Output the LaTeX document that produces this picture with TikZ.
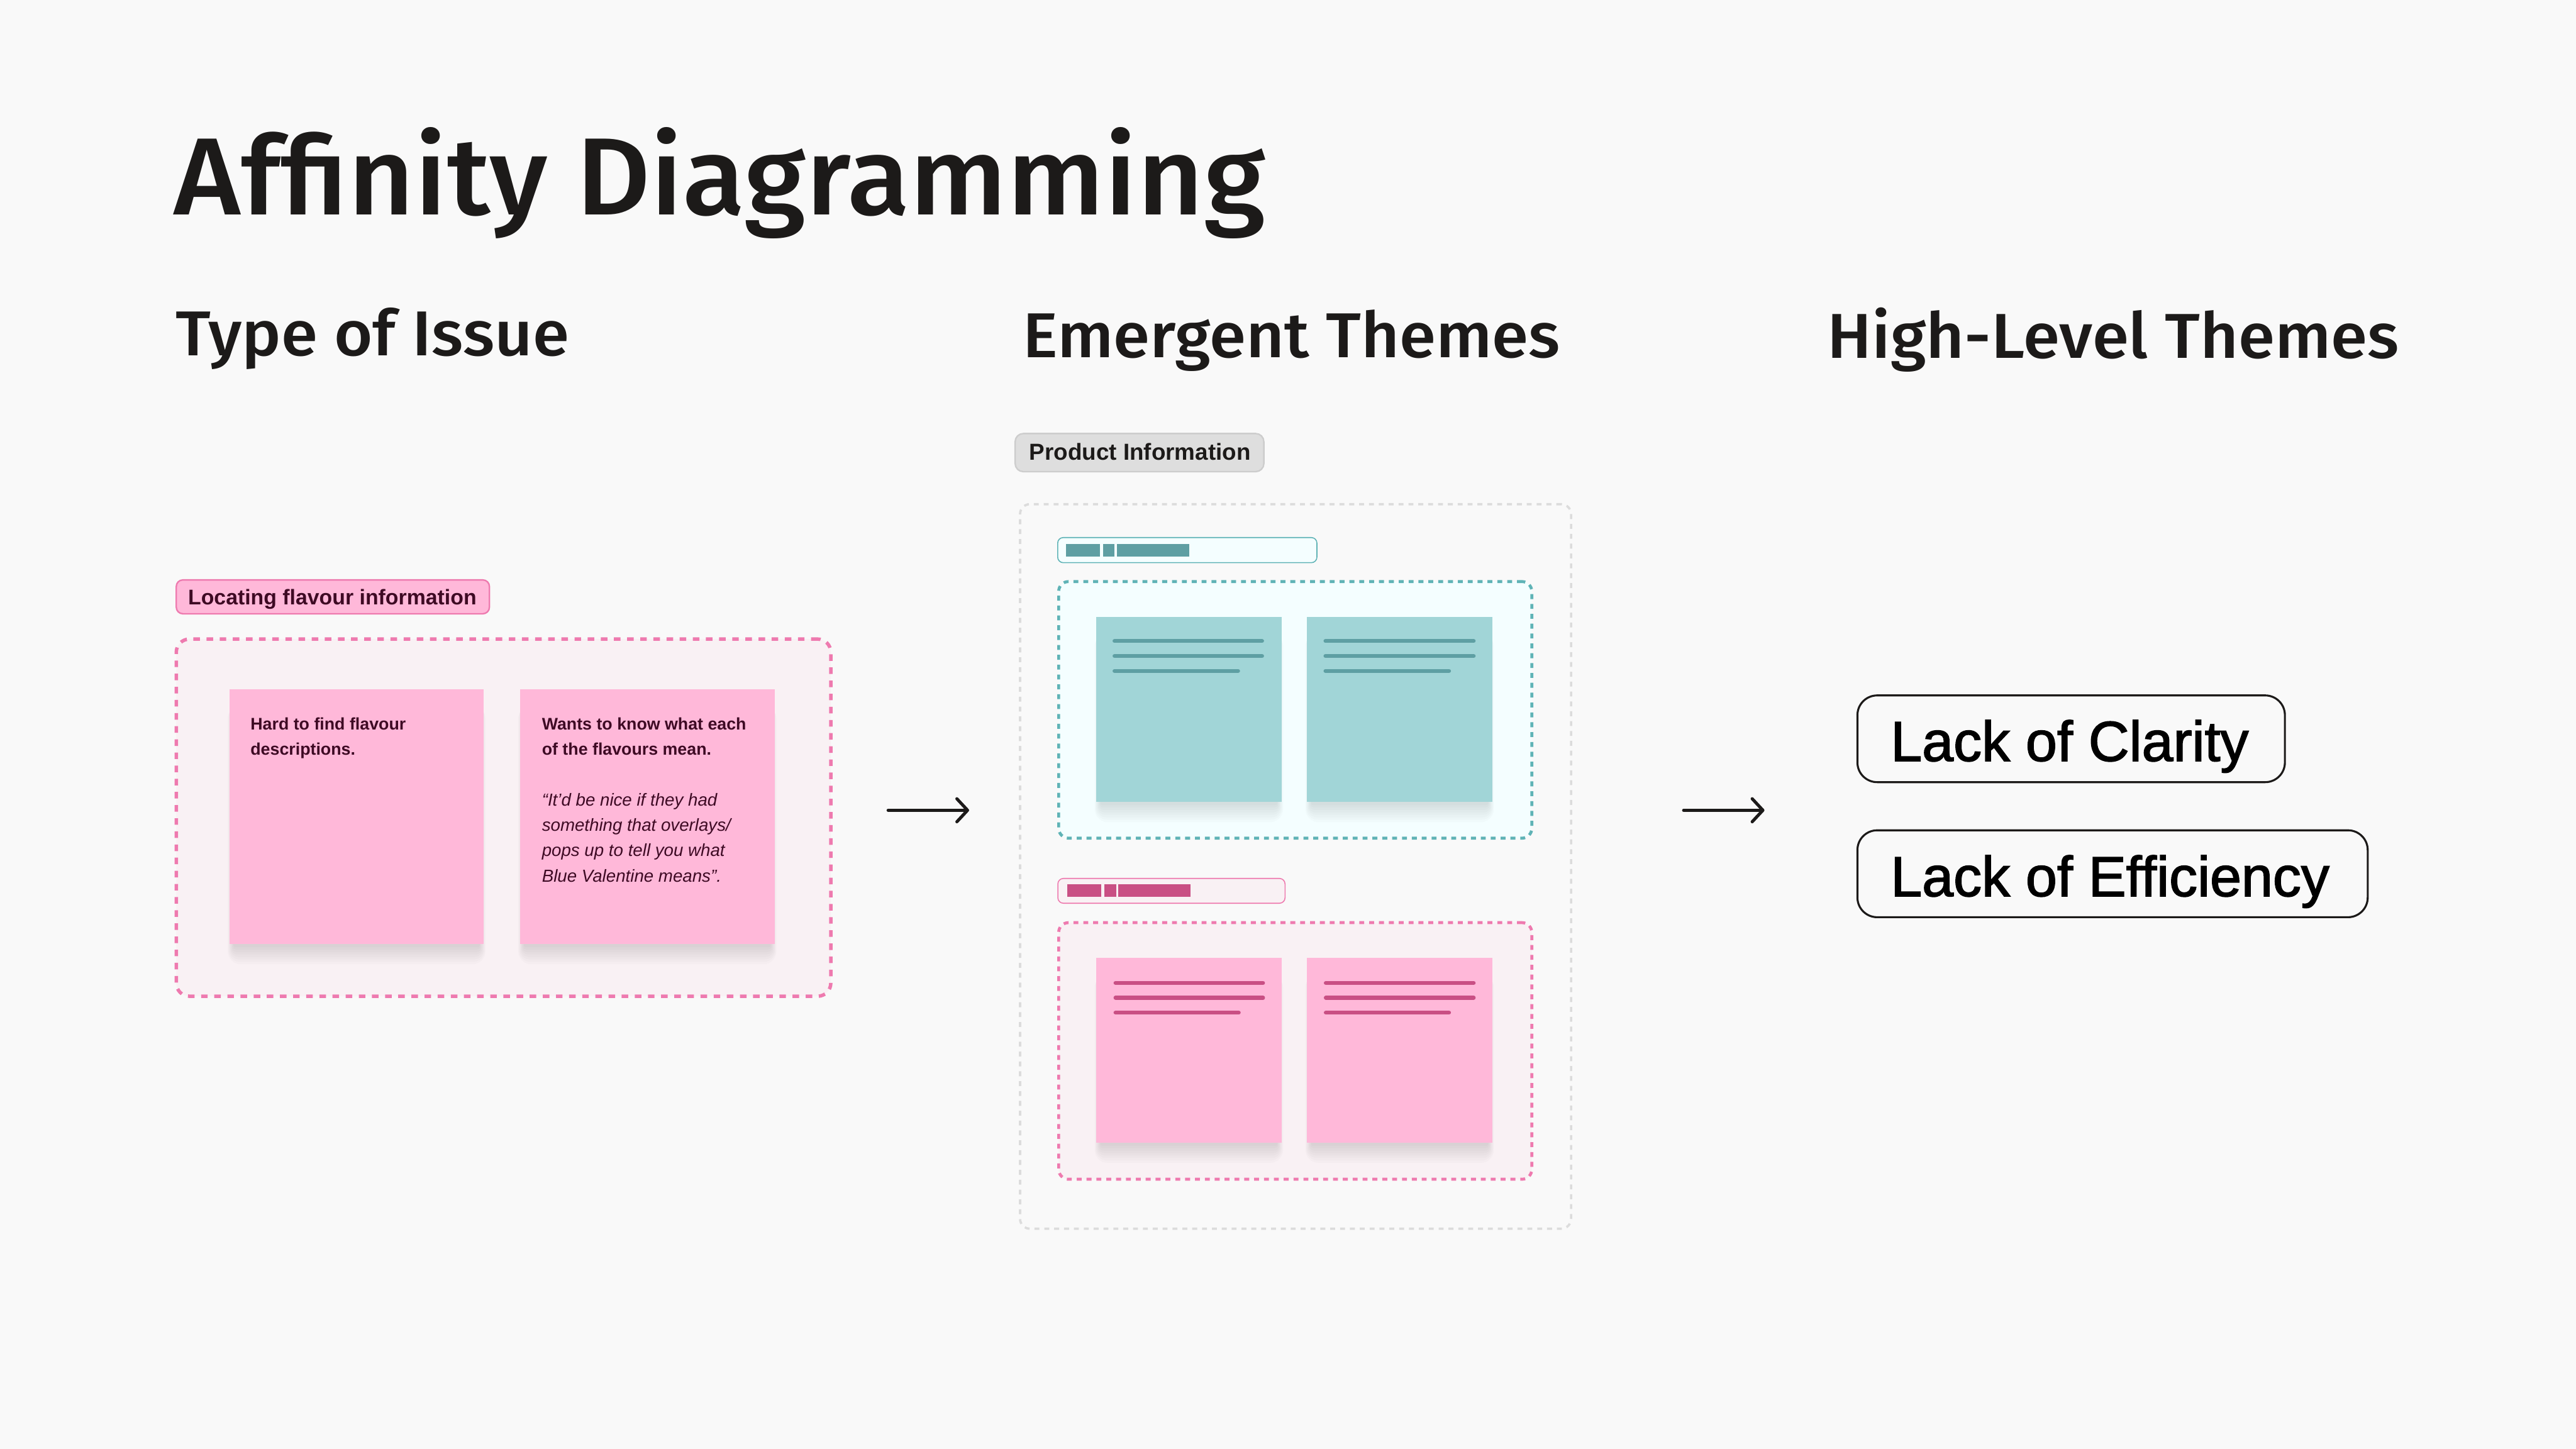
\documentclass[tikz,border=0pt]{standalone}
\usepackage{fontspec}
\usetikzlibrary{arrows.meta}
\setmainfont{Liberation Sans}
\newfontfamily\headfont{Fira Sans}[UprightFont=* Medium,FakeStretch=1.045]
\newfontfamily\notefont{Liberation Sans}
\newfontfamily\themefont{Liberation Sans}[FakeBold=1.8]
\definecolor{bg}{HTML}{F9F9F9}
\definecolor{ink}{HTML}{1C1A19}
\definecolor{maroon}{HTML}{3E0A24}
\definecolor{pinkfill}{HTML}{FFB8D9}
\definecolor{pinkline}{HTML}{EE7AAF}
\definecolor{pinkbg}{HTML}{F9F1F4}
\definecolor{pinkdark}{HTML}{C94F84}
\definecolor{tealfill}{HTML}{A1D5D7}
\definecolor{tealline}{HTML}{5FB3B6}
\definecolor{tealbg}{HTML}{F4FEFF}
\definecolor{tealdark}{HTML}{5E9FA3}
\definecolor{grayfill}{HTML}{DEDEDE}
\definecolor{grayline}{HTML}{CDCDCD}
\definecolor{graydash}{HTML}{DCDCDC}
\newcommand\softshadow[4]{%
  \foreach \k in {1,...,8}{%
    \fill[black,opacity=0.015,rounded corners=\k pt] (#1+3-0.5*\k,#2+10) rectangle (#3-3+0.5*\k,#4+0.3+1.5*\k);}}
\begin{document}
\begin{tikzpicture}[x=1pt,y=-1pt,
  box/.style={inner sep=0pt,outer sep=0pt},
  txt/.style={inner sep=0pt,outer sep=0pt,anchor=base west},
  head/.style={txt,text=ink,font=\headfont\fontsize{38.6}{44}\selectfont},
  pinkdashL/.style={box,draw=pinkline,fill=pinkbg,line width=2.1pt,dash pattern=on 4pt off 4pt,rounded corners=8pt},
  pinkdashM/.style={box,draw=pinkline,fill=pinkbg,line width=1.8pt,dash pattern=on 3pt off 3pt,rounded corners=6pt},
  tealdash/.style={box,draw=tealline,fill=tealbg,line width=1.8pt,dash pattern=on 3pt off 3pt,rounded corners=6pt},
  graydashed/.style={box,draw=graydash,line width=1.4pt,dash pattern=on 3pt off 3pt,rounded corners=6pt},
  pinknote/.style={box,fill=pinkfill},
  tealnote/.style={box,fill=tealfill},
  notebold/.style={txt,text=maroon,font=\notefont\bfseries\fontsize{10.25}{12}\selectfont},
  noteital/.style={txt,text=maroon,font=\notefont\itshape\fontsize{10.6}{12}\selectfont},
  themebox/.style={box,draw=ink,line width=1.2pt,rounded corners=12pt},
  themetext/.style={txt,text=black,font=\themefont\fontsize{34.4}{38}\selectfont},
  flow/.style={draw=ink,line width=1.9pt,line cap=round,-{Straight Barb[length=6.5pt,width=14pt,line cap=round,line join=round]}},
  tline/.style={tealdark,line width=2.4pt,line cap=round},
  pline/.style={pinkdark,line width=2.4pt,line cap=round}]
\useasboundingbox (0,0) rectangle (1568,882);
\fill[bg] (0,0) rectangle (1568,882);

% titles
\node[txt,text=ink,font=\headfont\fontsize{66.8}{70}\selectfont] (title) at (106,130.7) {Affinity Diagramming};
\node[head] (h1) at (107,216.5) {Type of Issue};
\node[head] (h2) at (622.6,217.5) {Emergent Themes};
\node[head] (h3) at (1112.3,217.9) {High-Level Themes};

% left column
\node[box,fill=pinkfill,draw=pinkline,line width=0.9pt,rounded corners=4pt,minimum width=190.6pt,minimum height=20.6pt] (tagL) at (202.6,363.3) {};
\node[txt,text=maroon,font=\notefont\bfseries\fontsize{12.95}{14}\selectfont] (tagLt) at (114.5,368.2) {Locating flavour information};
\node[pinkdashL,minimum width=398.4pt,minimum height=217.4pt] (contL) at (306.5,497.7) {};
\softshadow{139.6}{419.6}{294.5}{574.7}
\softshadow{316.4}{419.6}{471.6}{574.7}
\node[pinknote,minimum width=154.9pt,minimum height=155.1pt] (sL1) at (217.05,497.15) {};
\node[pinknote,minimum width=155.2pt,minimum height=155.1pt] (sL2) at (394,497.15) {};
\node[notebold] (n1a) at (152.5,444.2) {Hard to find flavour};
\node[notebold] (n1b) at (152.5,459.4) {descriptions.};
\node[notebold] (n2a) at (329.9,444.2) {Wants to know what each};
\node[notebold] (n2b) at (329.9,459.4) {of the flavours mean.};
\node[noteital] (q1) at (329.9,490.4) {“It’d be nice if they had};
\node[noteital] (q2) at (329.9,505.9) {something that overlays/};
\node[noteital] (q3) at (329.9,521.2) {pops up to tell you what};
\node[noteital] (q4) at (329.9,536.8) {Blue Valentine means”.};

% middle column
\node[box,fill=grayfill,draw=grayline,line width=0.9pt,rounded corners=5pt,minimum width=151.4pt,minimum height=23.2pt] (tagM) at (693.6,275.5) {};
\node[txt,text=ink,font=\notefont\bfseries\fontsize{14.09}{16}\selectfont] (tagMt) at (626.6,280.2) {Product Information};
\node[graydashed,minimum width=335.4pt,minimum height=441pt] (outerM) at (788.6,527.4) {};

\node[box,fill=tealbg,draw=tealline,line width=0.6pt,rounded corners=3.4pt,minimum width=157.8pt,minimum height=15.3pt] (hdrT) at (722.7,334.85) {};
\fill[tealdark] (648.8,331.1) rectangle (669.7,338.7);
\fill[tealdark] (671.6,331.1) rectangle (678.4,338.7);
\fill[tealdark] (679.9,331.1) rectangle (723.8,338.7);
\node[tealdash,minimum width=288pt,minimum height=156.2pt] (contT) at (788.4,432.1) {};
\softshadow{667.3}{375.5}{780}{488.2}
\softshadow{795.6}{375.5}{908.3}{488.2}
\node[tealnote,minimum width=112.7pt,minimum height=112.7pt] (sT1) at (723.65,431.85) {};
\node[tealnote,minimum width=112.7pt,minimum height=112.7pt] (sT2) at (851.95,431.85) {};
\draw[tline] (678.4,390.2) -- (768.2,390.2);
\draw[tline] (678.4,399.3) -- (768.2,399.3);
\draw[tline] (678.4,408.4) -- (753.6,408.4);
\draw[tline] (806.8,390.2) -- (897,390.2);
\draw[tline] (806.8,399.3) -- (897,399.3);
\draw[tline] (806.8,408.4) -- (882,408.4);

\node[box,fill=pinkbg,draw=pinkline,line width=0.6pt,rounded corners=3.4pt,minimum width=138.3pt,minimum height=15.1pt] (hdrP) at (713.05,542.25) {};
\fill[pinkdark] (649.7,538.4) rectangle (670.4,545.9);
\fill[pinkdark] (672.4,538.4) rectangle (679.3,545.9);
\fill[pinkdark] (680.6,538.4) rectangle (724.6,545.9);
\node[pinkdashM,minimum width=288pt,minimum height=156.2pt] (contP) at (788.4,639.7) {};
\softshadow{667.3}{583.1}{780}{695.6}
\softshadow{795.6}{583.1}{908.3}{695.6}
\node[pinknote,minimum width=112.7pt,minimum height=112.5pt] (sP1) at (723.65,639.35) {};
\node[pinknote,minimum width=112.7pt,minimum height=112.5pt] (sP2) at (851.95,639.35) {};
\draw[pline] (679,598.3) -- (768.8,598.3);
\draw[pline] (679,607.3) -- (768.8,607.3);
\draw[pline] (679,616.4) -- (754,616.4);
\draw[pline] (807,598.3) -- (897,598.3);
\draw[pline] (807,607.3) -- (897,607.3);
\draw[pline] (807,616.4) -- (882,616.4);

% right column
\node[themebox,minimum width=260.2pt,minimum height=52.8pt] (t1) at (1260.7,449.7) {};
\node[themetext] (t1t) at (1150.8,463.2) {Lack of Clarity};
\node[themebox,minimum width=310.6pt,minimum height=52.9pt] (t2) at (1285.9,531.85) {};
\node[themetext] (t2t) at (1150.8,545.5) {Lack of Efficiency};

% arrows
\coordinate (a1s) at (540.6,493.2);
\coordinate (a1e) at (589.9,493.2);
\coordinate (a2s) at (1024.8,493.2);
\coordinate (a2e) at (1074,493.2);
\draw[flow] (a1s) -- (a1e);
\draw[flow] (a2s) -- (a2e);
\end{tikzpicture}
\end{document}
